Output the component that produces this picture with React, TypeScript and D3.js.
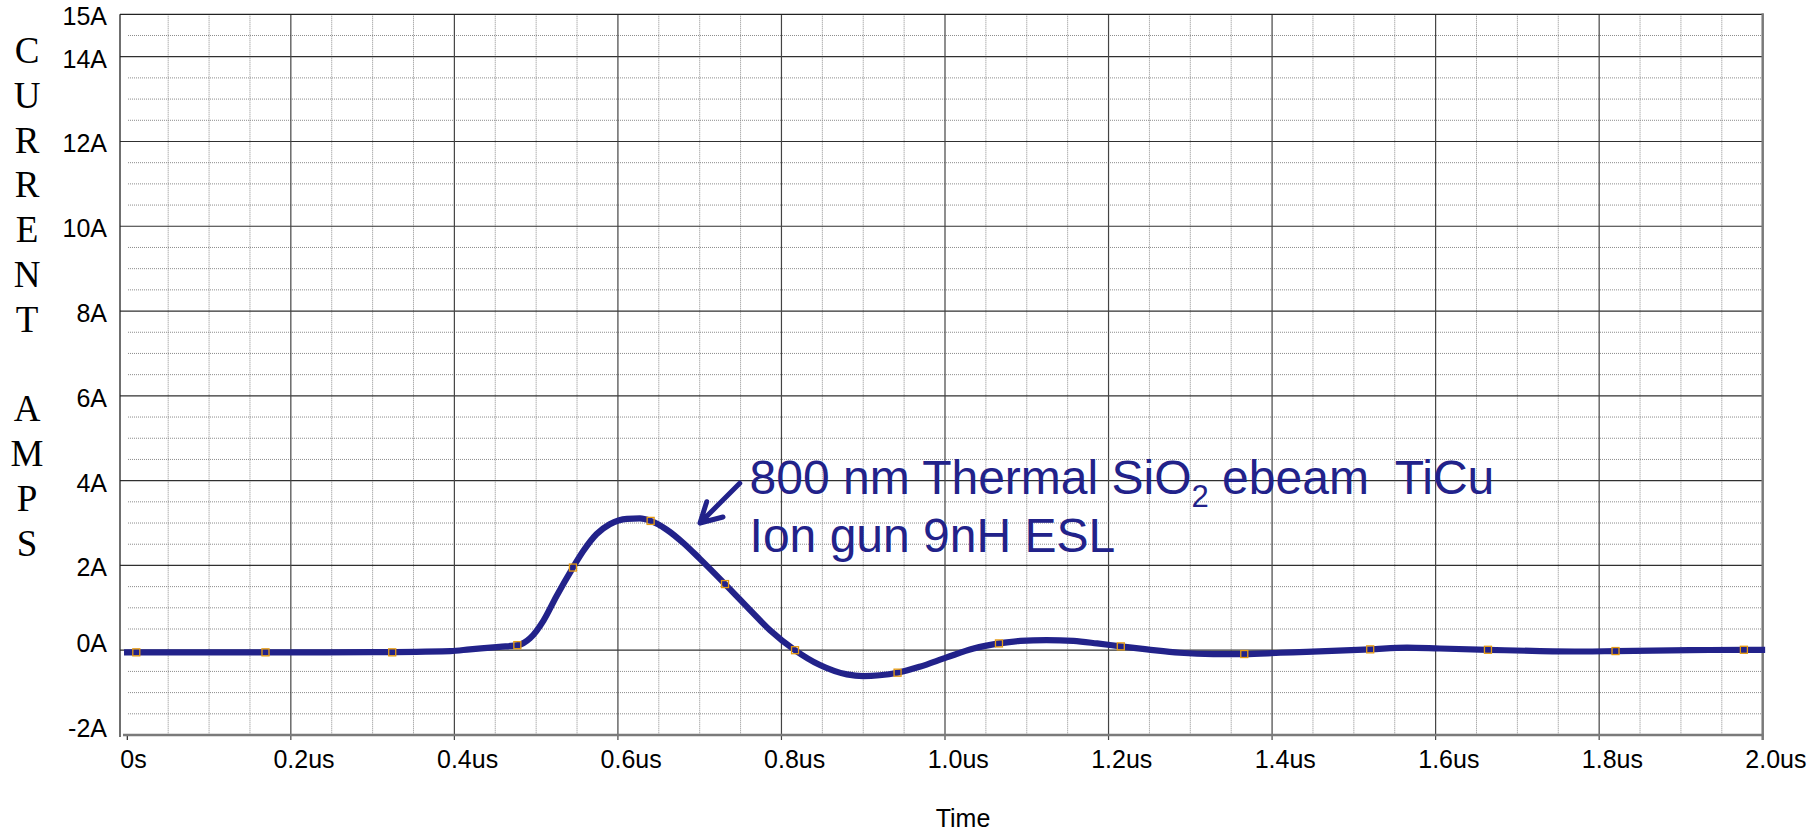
import React, { useEffect, useRef } from 'react'
import * as d3 from 'd3'

// trace (time in us, current in A)
const timeUs = [
  -0.004, 0.1, 0.2, 0.3, 0.395, 0.419, 0.455, 0.478, 0.4925, 0.509, 0.525, 0.545, 0.558, 0.574, 0.59,
  0.611, 0.627, 0.64, 0.66, 0.68, 0.7, 0.731, 0.762, 0.786, 0.8166, 0.847, 0.88, 0.9, 0.92, 0.942,
  0.969, 1.002, 1.035, 1.066, 1.092, 1.124, 1.157, 1.186, 1.215, 1.247, 1.287, 1.328, 1.366, 1.41,
  1.442, 1.52, 1.565, 1.605, 1.664, 1.728, 1.781, 1.82, 1.911, 1.977, 2.003,
]
const currentA = [
  -0.05, -0.05, -0.05, -0.045, -0.02, 0.02, 0.08, 0.12, 0.28, 0.7, 1.28, 1.95, 2.35, 2.74, 2.97,
  3.1, 3.11, 3.05, 2.84, 2.53, 2.16, 1.56, 0.94, 0.47, 0.0, -0.35, -0.57, -0.61, -0.59, -0.53,
  -0.39, -0.17, 0.04, 0.16, 0.22, 0.24, 0.22, 0.16, 0.09, 0.02, -0.06, -0.09, -0.09, -0.06,
  -0.04, 0.02, 0.06, 0.04, 0.01, -0.02, -0.03, -0.02, 0.0, 0.01, 0.01,
]

// trace symbols
const markerTimeUs = [0.011, 0.169, 0.324, 0.477, 0.545, 0.64, 0.731, 0.8166, 0.942, 1.066, 1.215, 1.366, 1.52, 1.664, 1.82, 1.977]
const markerCurrentA = [-0.05, -0.05, -0.05, 0.12, 1.95, 3.05, 1.56, 0.0, -0.53, 0.16, 0.09, -0.09, 0.02, 0.01, -0.02, 0.01]

const xTickValues = [0, 0.2, 0.4, 0.6, 0.8, 1.0, 1.2, 1.4, 1.6, 1.8, 2.0]
const xTickLabels = ['0s', '0.2us', '0.4us', '0.6us', '0.8us', '1.0us', '1.2us', '1.4us', '1.6us', '1.8us', '2.0us']
const yTickValues = [15, 14, 12, 10, 8, 6, 4, 2, 0, -2]
const yTickLabels = ['15A', '14A', '12A', '10A', '8A', '6A', '4A', '2A', '0A', '-2A']
const yTitleLetters = ['C', 'U', 'R', 'R', 'E', 'N', 'T', '', 'A', 'M', 'P', 'S']
const xTitle = 'Time'

const noteLine1 = ['800 nm Thermal SiO', '2', ' ebeam  TiCu']
const noteLine2 = 'Ion gun 9nH ESL'

const W = 1810
const H = 831
const axisLeft = 120
const plotTop = 14.3
const plotBottom = 735
const plotRight = 1762.7
const sans = '"Liberation Sans", Arial, sans-serif'
const navy = '#22228a'

// Arial advance widths for the number part of the x labels
const charW = { '0': 0.556, '1': 0.556, '2': 0.556, '4': 0.556, '6': 0.556, '8': 0.556, '.': 0.278 }

const App = () => {
  const ref = useRef(null)

  useEffect(() => {
    const x = d3.scaleLinear().domain([0, 2]).range([127.3, plotRight])
    const y = d3.scaleLinear().domain([-2, 15]).range([plotBottom, plotTop])
    const svg = d3.select(ref.current)
    svg.selectAll('*').remove()

    const grid = svg.append('g')

    // minor grid
    const minorY = d3.range(-3, 30).map(i => i / 2).filter(v => v % 2 !== 0)
    grid.selectAll('line.my').data(minorY).enter().append('line')
      .attr('x1', 128).attr('x2', plotRight)
      .attr('y1', d => y(d)).attr('y2', d => y(d))
      .attr('stroke', '#8c8c8c').attr('stroke-width', 1).attr('stroke-dasharray', '1 1')
    const minorX = d3.range(1, 40).filter(i => i % 4 !== 0).map(i => i * 0.05)
    grid.selectAll('line.mx').data(minorX).enter().append('line')
      .attr('x1', d => x(d)).attr('x2', d => x(d))
      .attr('y1', plotTop).attr('y2', plotBottom)
      .attr('stroke', '#8c8c8c').attr('stroke-width', 1).attr('stroke-dasharray', '1 1')

    // major grid
    const majorY = d3.range(0, 8).map(i => i * 2)
    grid.selectAll('line.My').data(majorY).enter().append('line')
      .attr('x1', axisLeft).attr('x2', plotRight)
      .attr('y1', d => y(d)).attr('y2', d => y(d))
      .attr('stroke', '#303030').attr('stroke-width', 1.2)
    const majorX = d3.range(1, 10).map(i => i * 0.2)
    grid.selectAll('line.Mx').data(majorX).enter().append('line')
      .attr('x1', d => x(d)).attr('x2', d => x(d))
      .attr('y1', plotTop).attr('y2', plotBottom + 5)
      .attr('stroke', '#444').attr('stroke-width', 1.2)

    // frame
    grid.append('line').attr('x1', axisLeft).attr('x2', plotRight).attr('y1', plotTop).attr('y2', plotTop)
      .attr('stroke', '#222').attr('stroke-width', 1.2)
    grid.append('line').attr('x1', plotRight).attr('x2', plotRight).attr('y1', plotTop - 1).attr('y2', plotBottom + 5)
      .attr('stroke', '#7a7a7a').attr('stroke-width', 2.5)
    grid.append('line').attr('x1', x(0)).attr('x2', x(0)).attr('y1', plotBottom).attr('y2', plotBottom + 5)
      .attr('stroke', '#222').attr('stroke-width', 1.2)
    grid.append('line').attr('x1', axisLeft + 3).attr('x2', plotRight + 1).attr('y1', plotBottom).attr('y2', plotBottom)
      .attr('stroke', '#7a7a7a').attr('stroke-width', 2.5)
    grid.append('line').attr('x1', axisLeft).attr('x2', axisLeft).attr('y1', plotTop).attr('y2', plotBottom + 2)
      .attr('stroke', '#222').attr('stroke-width', 1.3)

    // y tick labels
    svg.append('g').selectAll('text').data(yTickValues).enter().append('text')
      .attr('x', 107)
      .attr('y', d => y(d) + (d > 0 ? 11 : 2))
      .attr('text-anchor', 'end')
      .style('font-family', sans).style('font-size', '25px').style('fill', '#000')
      .text((d, i) => yTickLabels[i])

    // x tick labels: number centred on the tick, unit appended
    const xl = svg.append('g').selectAll('g').data(xTickValues).enter().append('g')
    xl.each(function (d, i) {
      const label = xTickLabels[i]
      const num = label.match(/^[\d.]+/)[0]
      const numW = num.split('').reduce((s, c) => s + (charW[c] || 0.556), 0) * 25
      d3.select(this).append('text').attr('x', x(d) - numW / 2).attr('y', 768)
        .style('font-family', sans).style('font-size', '25px').style('fill', '#000')
        .text(label)
    })

    // axis titles
    svg.append('text').attr('x', 963).attr('y', 827).attr('text-anchor', 'middle')
      .style('font-family', sans).style('font-size', '25px').text(xTitle)
    svg.append('g').selectAll('text').data(yTitleLetters).enter().append('text')
      .attr('x', 27).attr('y', (d, i) => 63 + i * 44.8).attr('text-anchor', 'middle')
      .style('font-family', '"Liberation Serif", "Times New Roman", serif').style('font-size', '37px')
      .text(d => d)

    // trace
    const line = d3.line()
      .x(d => x(d[0]))
      .y(d => y(d[1]))
      .curve(d3.curveMonotoneX)
    svg.append('path')
      .attr('d', line(timeUs.map((t, i) => [t, currentA[i]])))
      .attr('fill', 'none').attr('stroke', navy).attr('stroke-width', 6.2)
      .attr('stroke-linejoin', 'round')

    svg.append('g').selectAll('rect').data(markerTimeUs).enter().append('rect')
      .attr('x', d => x(d) - 3.5).attr('y', (d, i) => y(markerCurrentA[i]) - 3.5)
      .attr('width', 7).attr('height', 7)
      .attr('fill', 'none').attr('stroke', '#e59a12').attr('stroke-width', 1.3)

    // annotation
    const tipT = 0.7004, tipA = 3.0
    const tailT = 0.749, tailA = 3.94
    const ax = x(tipT), ay = y(tipA)
    svg.append('path')
      .attr('d', `M${x(tailT)},${y(tailA)}L${ax},${ay}M${ax + 6.7},${ay - 21.3}L${ax},${ay}L${ax + 23},${ay - 6}`)
      .attr('fill', 'none').attr('stroke', navy).attr('stroke-width', 5)
      .attr('stroke-linecap', 'round').attr('stroke-linejoin', 'round')

    const note = svg.append('g').style('font-family', sans).style('fill', navy)
    const t1 = note.append('text').attr('x', x(0.761)).attr('y', y(3.68))
      .attr('xml:space', 'preserve').style('white-space', 'pre').style('font-size', '48px')
    t1.append('tspan').text(noteLine1[0])
    t1.append('tspan').attr('dy', 12.7).style('font-size', '31px').text(noteLine1[1])
    t1.append('tspan').attr('dy', -12.7).text(noteLine1[2])
    note.append('text').attr('x', x(0.761)).attr('y', y(2.32)).style('font-size', '48px').text(noteLine2)
  }, [])

  return (
    <svg
      ref={ref}
      width={W}
      height={H}
      style={{ position: 'absolute', left: 0, top: 0, background: '#fff' }}
    />
  )
}

export default App
